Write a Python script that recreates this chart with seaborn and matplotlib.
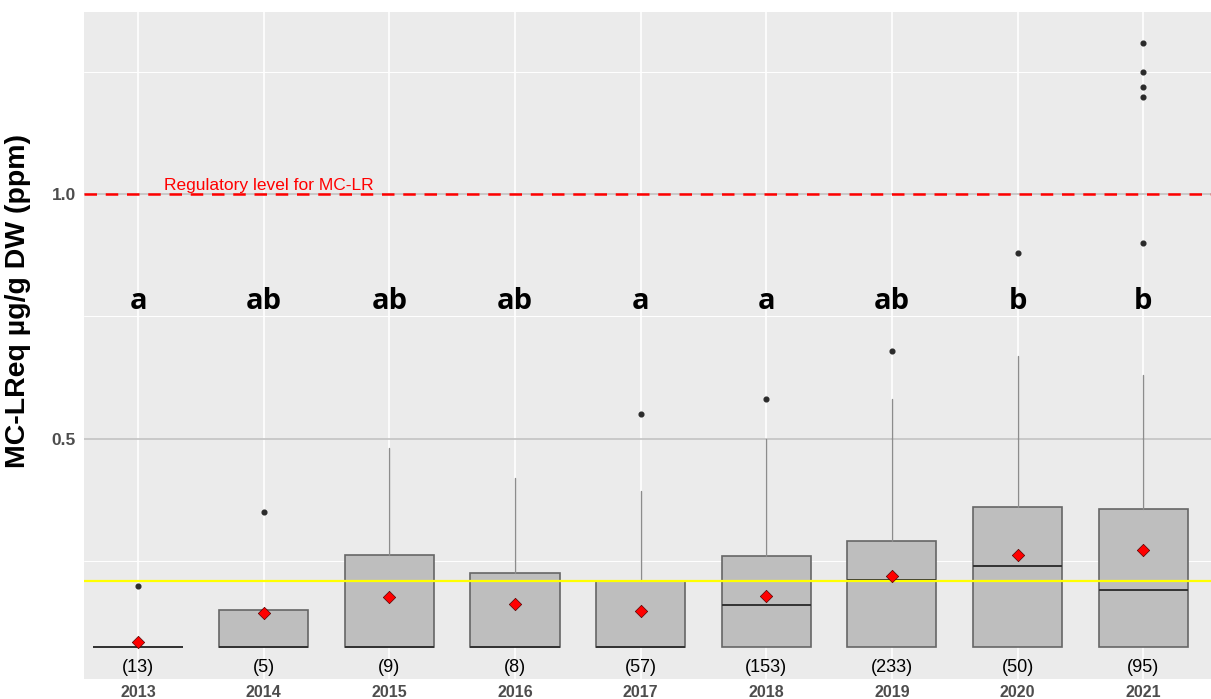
import matplotlib
matplotlib.use("Agg")
import matplotlib.pyplot as plt
import pandas as pd
import seaborn as sns

# Sampling years and summary statistics of MC-LReq concentration (ppm)
years = ["2013", "2014", "2015", "2016", "2017", "2018", "2019", "2020", "2021"]
n_obs = [13, 5, 9, 8, 57, 153, 233, 50, 95]
q1 = [0.073, 0.073, 0.073, 0.073, 0.073, 0.073, 0.073, 0.073, 0.073]
medians = [0.073, 0.073, 0.073, 0.073, 0.073, 0.160, 0.210, 0.240, 0.190]
q3 = [0.073, 0.149, 0.261, 0.224, 0.208, 0.260, 0.290, 0.359, 0.356]
whisker_low = [0.073, 0.073, 0.073, 0.073, 0.073, 0.073, 0.073, 0.073, 0.073]
whisker_high = [0.073, 0.149, 0.480, 0.419, 0.392, 0.499, 0.580, 0.669, 0.630]
means = [0.083, 0.144, 0.176, 0.161, 0.148, 0.177, 0.218, 0.261, 0.272]
outliers = [
    [0.199],
    [0.350],
    [],
    [],
    [0.550],
    [0.580],
    [0.680],
    [0.879],
    [0.900, 1.199, 1.219, 1.250, 1.310],
]
group_letters = ["a", "ab", "ab", "ab", "a", "a", "ab", "b", "b"]

regulatory_level = 1.0
reference_level = 0.208

sns.set_theme(style="darkgrid")
plt.rcParams["font.family"] = ["Liberation Sans", "DejaVu Sans"]

fig, ax = plt.subplots(figsize=(12.11, 6.99), dpi=100)
fig.subplots_adjust(left=0.0694, right=1.0, bottom=0.0286, top=0.983)
ax.set_facecolor("#EBEBEB")

# Mean markers (seaborn categorical axis: positions 0..n-1)
mean_df = pd.DataFrame({"year": years, "mean": means})
sns.stripplot(data=mean_df, x="year", y="mean", marker="D", color="#FF0000",
              edgecolor="#550000", linewidth=0.5, size=6.3, jitter=False,
              ax=ax, zorder=6)

# Boxes from the summary statistics
stats = [
    dict(label=y, q1=a, med=m, q3=b, whislo=lo, whishi=hi, fliers=f)
    for y, a, m, b, lo, hi, f in zip(years, q1, medians, q3,
                                     whisker_low, whisker_high, outliers)
]
ax.bxp(stats, positions=list(range(len(years))), widths=0.71,
       patch_artist=True, showcaps=False, manage_ticks=False,
       boxprops=dict(facecolor="#BEBEBE", edgecolor="#666666", linewidth=1.2),
       medianprops=dict(color="#333333", linewidth=1.4),
       whiskerprops=dict(color="#8C8C8C", linewidth=1.0),
       flierprops=dict(marker="o", markerfacecolor="#2B2B2B",
                       markeredgecolor="#2B2B2B", markersize=3.4),
       zorder=3)

# Reference lines
ax.axhline(reference_level, color="#FFFF00", linewidth=1.6, zorder=4)
ax.axhline(regulatory_level, color="#FF0000", linewidth=1.8,
           linestyle=(0, (5, 3.5)), zorder=4)
ax.text(0.21, regulatory_level + 0.008, "Regulatory level for MC-LR",
        color="#FF0000", fontsize=12.5, ha="left", va="baseline", zorder=5)

# Compact letter display and sample sizes
for i, (lab, n) in enumerate(zip(group_letters, n_obs)):
    ax.text(i, 0.765, lab, ha="center", va="baseline", fontsize=21,
            fontweight="bold", family=["Open Sans", "DejaVu Sans"],
            color="black", zorder=5)
    ax.text(i, 0.031, f"({n})", ha="center", va="center", fontsize=13,
            color="black", zorder=5)

# Axes, ticks and grid
ax.set_xlim(-0.43, 8.54)
ax.set_ylim(0.008, 1.373)
ax.set_xticks(range(len(years)))
ax.set_xticklabels(years)
ax.set_yticks([0.5, 1.0])
ax.set_yticklabels(["0.5", "1.0"])
ax.set_yticks([0.25, 0.75, 1.25], minor=True)
ax.grid(False)
ax.set_axisbelow(True)
ax.yaxis.grid(True, which="major", color="#C6C6C6", linewidth=1.3)
ax.yaxis.grid(True, which="minor", color="#FFFFFF", linewidth=0.7)
ax.xaxis.grid(True, which="major", color="#FFFFFF", linewidth=1.2)
ax.tick_params(axis="both", which="major", length=3, width=0.8,
               color="#333333", labelcolor="#4D4D4D")
ax.tick_params(axis="x", which="major", labelsize=11.5, pad=1)
ax.tick_params(axis="y", which="major", labelsize=12.5, pad=3)
ax.tick_params(axis="y", which="minor", length=0)
for t in ax.get_xticklabels() + ax.get_yticklabels():
    t.set_fontweight("bold")
for s in ax.spines.values():
    s.set_visible(False)

ax.set_xlabel("")
ax.set_ylabel("MC-LReq µg/g DW (ppm)", fontsize=20.5, fontweight="bold",
              color="black")
ax.yaxis.set_label_coords(-0.047, 0.567)

fig.savefig("out.png", dpi=100, facecolor="white")
